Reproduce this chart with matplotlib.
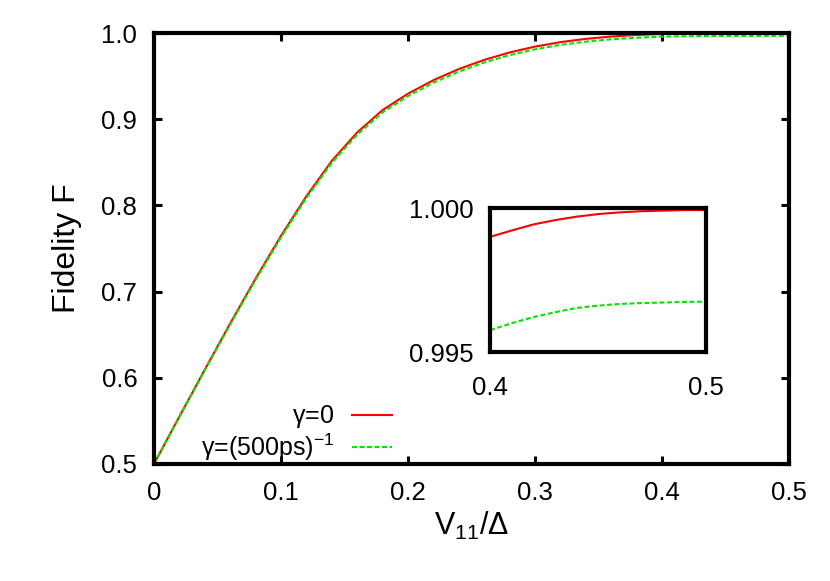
#!/usr/bin/env python3
"""
Fidelity F versus V11/Delta for two dephasing rates, with an inset
zooming in on the plateau near F = 1.
"""
import matplotlib
matplotlib.use('Agg')
import matplotlib.pyplot as plt

# values
v11 = [0.00, 0.02, 0.04, 0.06, 0.08, 0.10, 0.12, 0.14, 0.16, 0.18,
       0.20, 0.22, 0.24, 0.26, 0.28, 0.30, 0.32, 0.34, 0.36, 0.38,
       0.40, 0.42, 0.44, 0.46, 0.48, 0.50]
fid_gamma0 = [0.500, 0.555, 0.6094, 0.663, 0.715, 0.7646, 0.8106, 0.8516,
              0.8846, 0.9106, 0.9296, 0.9452, 0.9582, 0.9688, 0.9774,
              0.9842, 0.9894, 0.9932, 0.9959, 0.9977, 0.9990, 0.99943,
              0.99970, 0.99985, 0.99991, 0.99993]
fid_gamma500 = [0.500, 0.5546, 0.6087, 0.6619, 0.7136, 0.7629, 0.8086,
                0.8493, 0.8821, 0.9079, 0.9268, 0.9423, 0.9552, 0.9658,
                0.9743, 0.9811, 0.9862, 0.9900, 0.9927, 0.9945, 0.99576,
                0.99621, 0.99653, 0.99667, 0.99672, 0.99675]

# finer reading of the inset window
v11_inset = [0.40, 0.41, 0.42, 0.43, 0.44, 0.45, 0.46, 0.47, 0.48, 0.49,
             0.50]
fid_gamma0_inset = [0.99900, 0.99922, 0.99943, 0.99958, 0.99970, 0.99979,
                    0.99985, 0.99989, 0.99991, 0.99993, 0.99993]
fid_gamma500_inset = [0.99576, 0.99600, 0.99621, 0.99638, 0.99653, 0.99661,
                      0.99667, 0.99670, 0.99672, 0.99674, 0.99675]

x_ticks = [0, 0.1, 0.2, 0.3, 0.4, 0.5]
x_ticklabels = ['0', '0.1', '0.2', '0.3', '0.4', '0.5']
y_ticks = [0.5, 0.6, 0.7, 0.8, 0.9, 1.0]
y_ticklabels = ['0.5', '0.6', '0.7', '0.8', '0.9', '1.0']
inset_xticks = [0.4, 0.5]
inset_xticklabels = ['0.4', '0.5']
inset_yticks = [0.995, 1.000]
inset_yticklabels = ['0.995', '1.000']

plt.rcParams['font.family'] = ['Liberation Sans', 'DejaVu Sans']
plt.rcParams['mathtext.default'] = 'regular'

RED = '#ff0000'
GREEN = '#00e600'
DASH = (2.4, 1.2)

fig = plt.figure(figsize=(8.30, 5.81), dpi=100)
ax = fig.add_axes([0.1855, 0.2014, 0.7651, 0.7418])

ax.plot(v11, fid_gamma0, color=RED, lw=1.5, label=r'$\gamma$=0')
ax.plot(v11, fid_gamma500, color=GREEN, lw=1.5, dashes=DASH,
        label=r'$\gamma$=(500ps)$^{-1}$')

ax.set_xlim(0, 0.5)
ax.set_ylim(0.5, 1.0)
ax.set_xticks(x_ticks)
ax.set_xticklabels(x_ticklabels)
ax.set_yticks(y_ticks)
ax.set_yticklabels(y_ticklabels)
ax.tick_params(direction='in', length=6, width=2.2, labelsize=18.5,
               top=True, right=True)
ax.tick_params(axis='x', pad=12)
ax.tick_params(axis='y', pad=12)
for sp in ax.spines.values():
    sp.set_linewidth(3)

ax.set_xlabel(r'V$_{11}$/$\Delta$', fontsize=22, labelpad=4)
ax.set_ylabel('Fidelity F', fontsize=23, labelpad=14)

# legend in gnuplot style: text first, line sample after it
ax.legend(loc='lower right', bbox_to_anchor=(392 / 830, 1 - 463 / 581),
          bbox_transform=fig.transFigure, frameon=False, fontsize=18,
          markerfirst=False, handlelength=1.6, handletextpad=0.7,
          borderpad=0, borderaxespad=0, labelspacing=0.05)

# inset
axin = fig.add_axes([0.5904, 0.3941, 0.2602, 0.2478])
axin.plot(v11_inset, fid_gamma0_inset, color=RED, lw=1.5)
axin.plot(v11_inset, fid_gamma500_inset, color=GREEN, lw=1.5, dashes=DASH)
axin.set_xlim(0.4, 0.5)
axin.set_ylim(0.995, 1.000)
axin.set_xticks(inset_xticks)
axin.set_xticklabels(inset_xticklabels)
axin.set_yticks(inset_yticks)
axin.set_yticklabels(inset_yticklabels)
axin.tick_params(direction='in', length=0, labelsize=18.5)
axin.tick_params(axis='x', pad=17)
axin.tick_params(axis='y', pad=12)
for sp in axin.spines.values():
    sp.set_linewidth(3)

fig.savefig('out.png', dpi=100)
